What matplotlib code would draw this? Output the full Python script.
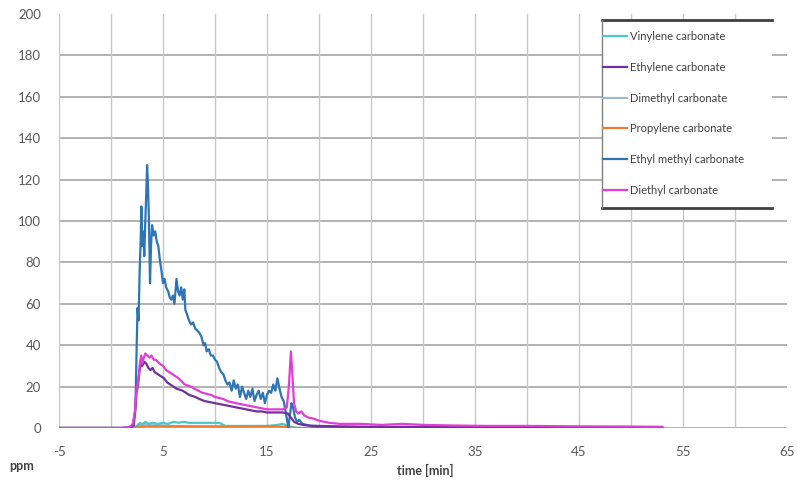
import matplotlib
matplotlib.use("Agg")
import matplotlib.pyplot as plt
from matplotlib.lines import Line2D

plt.rcParams["axes.unicode_minus"] = False
plt.rcParams["font.family"] = ["Lato", "DejaVu Sans"]

# ---------------- data ----------------
labels = ["Vinylene carbonate", "Ethylene carbonate", "Dimethyl carbonate",
          "Propylene carbonate", "Ethyl methyl carbonate", "Diethyl carbonate"]
colors = ["#4BC8C8", "#7030A0", "#9DB7D5", "#ED7D31", "#2E75B6", "#E33DD8"]

vc_t = [-5, 2.2, 2.5, 2.8, 3.0, 3.3, 3.6, 4.0, 4.5, 5.0, 5.5, 6.0, 6.5, 7.0, 7.5, 8.0,
        8.5, 9.0, 9.5, 10.0, 10.5, 11.0, 12.0, 13.0, 14.0, 15.0, 16.0, 16.5, 17.0, 17.5, 18, 53]
vc_v = [0, 0, 1, 2.5, 1.5, 3, 2, 2.5, 2, 2.5, 2, 3, 2.5, 3, 2.5, 2.5,
        2.5, 2.5, 2.5, 2.5, 2.3, 1, 1, 1, 1, 1, 1.5, 2, 1, 0.3, 0, 0]

ec_t = [-5, 1, 1.8, 2.1, 2.3, 2.45, 2.6, 2.75, 2.9, 3.0, 3.2, 3.4, 3.6, 3.8, 4.0, 4.2, 4.5,
        4.8, 5.1, 5.4, 5.7, 6.0, 6.3, 6.6, 6.9, 7.2, 7.5, 7.8, 8.1, 8.5, 9.0, 9.5, 10.0,
        10.5, 11.0, 11.5, 12.0, 12.5, 13.0, 13.5, 14.0, 14.5, 15.0, 15.5, 16.0, 16.5, 17.0,
        17.3, 17.6, 18.0, 18.5, 19, 20, 22, 25, 30, 40, 53]
ec_v = [0, 0, 0.3, 1.5, 7, 17, 21, 28, 33, 30, 32, 31, 29, 28, 29, 27, 26,
        25, 24, 22, 21, 20, 19, 18.5, 18, 17, 16, 15.5, 15, 14, 13, 12.5, 12,
        11.5, 11, 10.5, 10, 9.5, 9, 8.5, 8, 8, 7.5, 7.5, 7.5, 7.5, 7,
        5, 3, 2, 1.5, 1.2, 1, 0.8, 0.6, 0.5, 0.4, 0.3]

dmc_t = [-5, 2.3, 2.6, 3.0, 4, 6, 8, 10, 14, 17, 18, 53]
dmc_v = [0, 0, 1.5, 2, 1.5, 1, 0.8, 0.6, 0.5, 0.3, 0, 0]

pc_t = [-5, 2.2, 2.5, 3, 5, 8, 10, 12, 14, 16, 17, 17.5, 53]
pc_v = [0, 0, 0.5, 0.8, 0.8, 0.7, 0.8, 0.7, 0.8, 0.8, 0.5, 0, 0]

emc_t = [-5, 0, 1.5, 2.0, 2.2, 2.35, 2.45, 2.55, 2.65, 2.75, 2.85, 2.92, 3.0, 3.1, 3.2,
         3.3, 3.4, 3.47, 3.55, 3.65, 3.75, 3.85, 3.95, 4.1, 4.25, 4.4, 4.55, 4.7, 4.85,
         5.0, 5.15, 5.3, 5.5, 5.65, 5.8, 5.95, 6.1, 6.3, 6.45, 6.6, 6.75, 6.9, 7.05, 7.15,
         7.3, 7.5, 7.7, 7.9, 8.1, 8.3, 8.5, 8.7, 8.9, 9.05, 9.2, 9.4, 9.6, 9.8, 10.0, 10.2,
         10.4, 10.6, 10.8, 11.0, 11.2, 11.4, 11.6, 11.8, 12.0, 12.2, 12.4, 12.6, 12.8, 13.0,
         13.2, 13.4, 13.6, 13.8, 14.0, 14.2, 14.4, 14.6, 14.8, 15.0, 15.2, 15.4, 15.6, 15.8,
         16.0, 16.2, 16.4, 16.6, 16.8, 16.95, 17.05, 17.2, 17.35, 17.5, 17.7, 17.9, 18.1,
         18.4, 18.8, 19.3, 20, 25, 30, 40, 53]
emc_v = [0, 0, 0, 0.5, 1, 10, 35, 58, 52, 75, 90, 107, 88, 95, 83,
         100, 115, 127, 118, 100, 70, 88, 98, 93, 95, 90, 88, 81, 76,
         70, 72, 68, 66, 63, 62, 64, 60, 72, 66, 64, 68, 62, 67, 57,
         55, 52, 50, 51, 48, 47, 46, 44, 40, 41, 37, 38, 35, 35, 33, 32,
         29, 27, 26, 23, 21, 22, 18, 23, 19, 21, 15, 20, 17, 14,
         18, 15, 19, 13, 16, 18, 14, 17, 12, 16, 18, 17, 21, 18,
         24, 19, 15, 13, 8, 3, 0.5, 6, 12, 10, 5, 3, 4,
         2, 1.5, 0.8, 0.3, 0.2, 0.2, 0.1, 0.1]

dec_t = [-5, 1, 1.8, 2.1, 2.3, 2.45, 2.6, 2.75, 2.9, 3.0, 3.15, 3.3, 3.5, 3.7, 3.9, 4.1,
         4.3, 4.5, 4.7, 5.0, 5.3, 5.6, 5.9, 6.2, 6.5, 6.8, 7.1, 7.4, 7.7, 8.0, 8.4, 8.8,
         9.2, 9.6, 10.0, 10.4, 10.8, 11.2, 11.6, 12.0, 12.5, 13.0, 13.5, 14.0, 14.5, 15.0,
         15.5, 16.0, 16.5, 16.9, 17.1, 17.3, 17.45, 17.6, 17.8, 18.0, 18.3, 18.6, 19.0,
         19.5, 20.0, 20.5, 21.0, 22, 24, 26, 28, 30, 33, 36, 40, 45, 50, 53]
dec_v = [0, 0, 0.5, 2, 8, 19, 22, 30, 35, 31, 34, 36, 35, 34, 35, 33,
         33, 32, 31, 30, 28, 27, 26, 25, 24, 22.5, 21, 20.5, 20, 19, 18, 17,
         16.5, 16, 15, 14.5, 14, 13, 12.5, 12, 11.5, 11, 10.5, 10, 9.5, 9,
         9, 9, 9, 10, 20, 37, 25, 12, 8, 7, 8, 6, 5,
         4.5, 3.5, 3, 2.5, 2, 2, 1.5, 2, 1.5, 1.2, 1, 1, 0.8, 0.7, 0.6]

series = [(vc_t, vc_v), (ec_t, ec_v), (dmc_t, dmc_v), (pc_t, pc_v),
          (emc_t, emc_v), (dec_t, dec_v)]
# drawing order: small ones first, then EMC, EC, DEC on top
order = [2, 0, 3, 4, 1, 5]

x_ticks = [-5, 5, 15, 25, 35, 45, 55, 65]
y_ticks = [0, 20, 40, 60, 80, 100, 120, 140, 160, 180, 200]

# ---------------- figure ----------------
W, H = 798, 482
fig = plt.figure(figsize=(W / 100, H / 100), dpi=100)
ax = fig.add_axes([59 / W, 1 - 428 / H, (787 - 59) / W, (428 - 14) / H])

handles = {}
for i in order:
    t, v = series[i]
    ln, = ax.plot(t, v, color=colors[i], lw=1.6, label=labels[i], zorder=3)
    handles[i] = ln

ax.set_xlim(-5, 65)
ax.set_ylim(0, 200)
ax.set_xticks(x_ticks)
ax.set_yticks(y_ticks)
for s in ax.spines.values():
    s.set_visible(False)
ax.tick_params(axis="both", length=0, labelsize=9.5, colors="#595959")
ax.tick_params(axis="x", pad=13)
ax.tick_params(axis="y", pad=13)

# grid
ax.grid(False)
for y in y_ticks[:-1]:
    ax.axhline(y, color="#a6a6a6", lw=1.2, zorder=1)
for x in range(-5, 65, 5):
    ax.axvline(x, color="#c8c8c8", lw=1.0, zorder=1)

# axis titles
fig.text(22 / W, 1 - 466 / H, "ppm", ha="center", va="center",
         fontsize=9, fontweight="bold", color="#404040")
fig.text(425 / W, 1 - 470 / H, "time [min]", ha="center", va="center",
         fontsize=9, fontweight="bold", color="#404040")

# legend
leg = fig.legend([handles[i] for i in range(6)], labels,
                 loc="upper left", bbox_to_anchor=(603 / W, 1 - 31 / H),
                 frameon=False, fontsize=8, labelspacing=1.78,
                 handlelength=2.2, handletextpad=0.25, borderaxespad=0,
                 borderpad=0)
for txt in leg.get_texts():
    txt.set_color("#404040")
# legend box: thin left edge, thick top and bottom edges
white = plt.Rectangle((602 / W, 1 - 208 / H), (772 - 602) / W, (208 - 20) / H,
                      transform=fig.transFigure, facecolor="white",
                      edgecolor="none", zorder=1.5)
fig.patches.append(white)
leg.set_zorder(5)
fig.add_artist(Line2D([602 / W, 772 / W], [1 - 20 / H, 1 - 20 / H],
                      color="#404040", lw=2, transform=fig.transFigure))
fig.add_artist(Line2D([602 / W, 772 / W], [1 - 208 / H, 1 - 208 / H],
                      color="#404040", lw=2, transform=fig.transFigure))
fig.add_artist(Line2D([602 / W, 602 / W], [1 - 20 / H, 1 - 208 / H],
                      color="#808080", lw=1, transform=fig.transFigure))

fig.savefig("out.png", dpi=100)
